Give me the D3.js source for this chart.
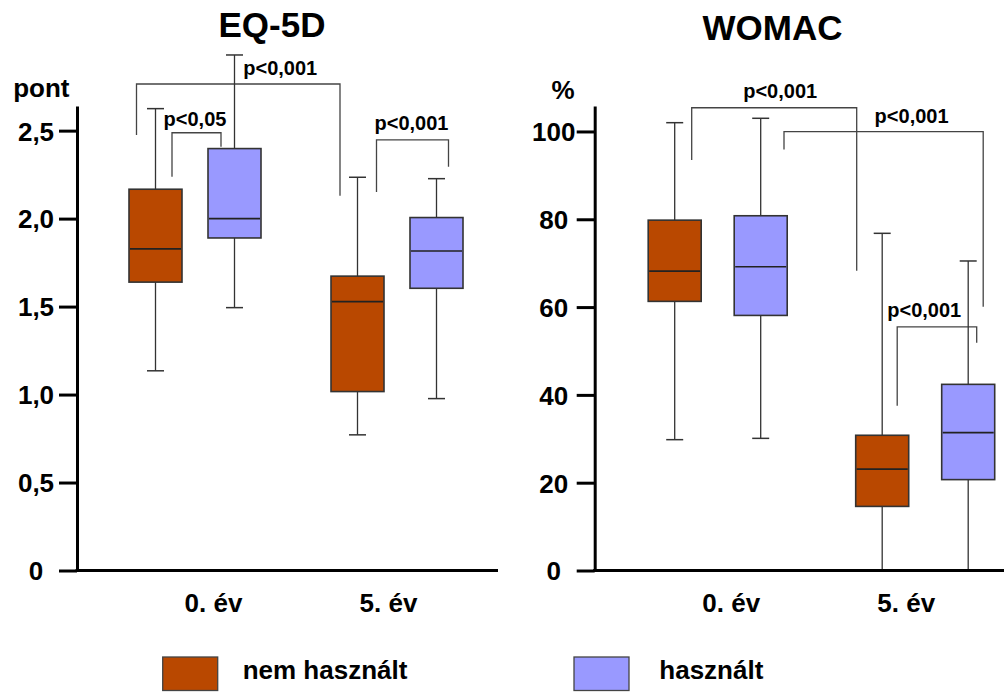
<!DOCTYPE html>
<html>
<head>
<meta charset="utf-8">
<script src="https://cdn.jsdelivr.net/npm/d3@7"></script>
<style>
  html, body { margin: 0; padding: 0; background: #fff; }
  svg { display: block; }
  text { font-family: "Liberation Sans", Arial, sans-serif; font-weight: bold; fill: #000; }
</style>
</head>
<body>
<svg id="chart" width="1004" height="693"></svg>
<script>
// Groups on the x axis and the two series (legend)
const groups = ["0. év", "5. év"];
const series = ["nem használt", "használt"];

// Box statistics per group: [min, Q1, median, Q3, max]
const eq5dNemHasznalt = [[1.135, 1.639, 1.828, 2.167, 2.625], [0.771, 1.017, 1.528, 1.673, 2.235]];
const eq5dHasznalt    = [[1.494, 1.890, 2.000, 2.398, 2.930], [0.977, 1.604, 1.816, 2.006, 2.227]];
const womacNemHasznalt = [[29.8, 61.3, 68.2, 79.8, 102.0], [0, 14.6, 23.1, 30.8, 76.8]];
const womacHasznalt    = [[30.1, 58.1, 69.2, 80.8, 103.0], [0, 20.7, 31.4, 42.4, 70.5]];

// Y axis ticks
const eq5dTicks = [0, 0.5, 1, 1.5, 2, 2.5];
const eq5dTickLabels = ["0", "0,5", "1,0", "1,5", "2,0", "2,5"];
const womacTicks = [0, 20, 40, 60, 80, 100];
const womacTickLabels = ["0", "20", "40", "60", "80", "100"];

// Significance brackets: box refs [group, series], bracket height and leg ends in data units
const eq5dBrackets = [
  { from: [0, 0], to: [1, 0], level: 2.765, endFrom: 2.475, endTo: 2.130, label: "p<0,001" },
  { from: [0, 0], to: [0, 1], level: 2.488, endFrom: 2.238, endTo: 2.409, label: "p<0,05" },
  { from: [1, 0], to: [1, 1], level: 2.447, endFrom: 2.151, endTo: 2.295, label: "p<0,001" }
];
const womacBrackets = [
  { from: [0, 0], to: [1, 0], level: 105.4, endFrom: 93.5, endTo: 68.3, label: "p<0,001" },
  { from: [0, 1], to: [1, 1], level: 99.95, endFrom: 95.9, endTo: 60.1, label: "p<0,001" },
  { from: [1, 0], to: [1, 1], level: 55.5, endFrom: 37.5, endTo: 51.9, label: "p<0,001" }
];

const colors = d3.scaleOrdinal().domain(series).range(["#B94800", "#9999FF"]);

// Panel layout (pixels)
const panels = [
  {
    title: "EQ-5D", unit: "pont", data: [eq5dNemHasznalt, eq5dHasznalt],
    ticks: eq5dTicks, tickLabels: eq5dTickLabels, yMax: 2.64, brackets: eq5dBrackets,
    axisX: 77, groupPos: [118, 320], subOffset: 39.5,
    titleX: 272, titleY: 36.7, unitX: 41.3, unitY: 96.7,
    // horizontal nudges of bracket ends and labels
    bracketDx: [[-19, -17.5, 42], [16.5, -13.5, -1.5], [19, 12, -1]],
    labelGap: [9, 7, 10]
  },
  {
    title: "WOMAC", unit: "%", data: [womacNemHasznalt, womacHasznalt],
    ticks: womacTicks, tickLabels: womacTickLabels, yMax: 105.8, brackets: womacBrackets,
    axisX: 594.7, groupPos: [123, 330.5], subOffset: 43,
    titleX: 772.5, titleY: 40, unitX: 563, unitY: 99,
    bracketDx: [[17, -25.5, 6], [23.3, 15, 28], [15, 8.5, -12.7]],
    labelGap: [10, 9, 10]
  }
];

const svg = d3.select("#chart");
const yBottom = 570.5, yTopPx = 106;
const axisWidth = 421;
const boxW = 53, capW = 17;
const stroke = "#333";

panels.forEach(p => {
  const g = svg.append("g").attr("transform", `translate(${p.axisX},0)`);

  const y = d3.scaleLinear().domain([0, p.yMax]).range([yBottom, yTopPx]);
  const xGroup = d3.scalePoint().domain(groups).range(p.groupPos);
  const xSeries = d3.scalePoint().domain(series).range([-p.subOffset, p.subOffset]);
  const xLabel = d3.scalePoint().domain(groups).range([136, 311]);
  const boxX = (gi, si) => xGroup(groups[gi]) + xSeries(series[si]);

  // Title and unit
  svg.append("text").attr("x", p.titleX).attr("y", p.titleY)
    .attr("text-anchor", "middle").style("font-size", "35px").text(p.title);
  svg.append("text").attr("x", p.unitX).attr("y", p.unitY)
    .attr("text-anchor", "middle").style("font-size", "26px").text(p.unit);

  // Brackets
  p.brackets.forEach((b, i) => {
    const [dxF, dxT, ldx] = p.bracketDx[i];
    const x1 = boxX(b.from[0], b.from[1]) + dxF;
    const x2 = boxX(b.to[0], b.to[1]) + dxT;
    g.append("path")
      .attr("d", `M${x1},${y(b.endFrom)}V${y(b.level)}H${x2}V${y(b.endTo)}`)
      .attr("fill", "none").attr("stroke", "#444").attr("stroke-width", 1.3);
    g.append("text").attr("x", (x1 + x2) / 2 + ldx).attr("y", y(b.level) - p.labelGap[i])
      .attr("text-anchor", "middle").style("font-size", "20px").text(b.label);
  });

  // Boxes
  p.data.forEach((seriesData, si) => {
    seriesData.forEach((d, gi) => {
      const [mn, q1, med, q3, mx] = d;
      const cx = boxX(gi, si);
      const bg = g.append("g");
      bg.append("line").attr("x1", cx).attr("x2", cx).attr("y1", y(q3)).attr("y2", y(mx))
        .attr("stroke", stroke).attr("stroke-width", 1.3);
      bg.append("line").attr("x1", cx).attr("x2", cx).attr("y1", y(q1)).attr("y2", y(mn))
        .attr("stroke", stroke).attr("stroke-width", 1.3);
      bg.append("line").attr("x1", cx - capW / 2).attr("x2", cx + capW / 2).attr("y1", y(mx)).attr("y2", y(mx))
        .attr("stroke", stroke).attr("stroke-width", 1.5);
      bg.append("line").attr("x1", cx - capW / 2).attr("x2", cx + capW / 2).attr("y1", y(mn)).attr("y2", y(mn))
        .attr("stroke", stroke).attr("stroke-width", 1.5);
      bg.append("rect").attr("x", cx - boxW / 2).attr("y", y(q3))
        .attr("width", boxW).attr("height", y(q1) - y(q3))
        .attr("fill", colors(series[si])).attr("stroke", stroke).attr("stroke-width", 1.6);
      bg.append("line").attr("x1", cx - boxW / 2 + 1).attr("x2", cx + boxW / 2 - 1).attr("y1", y(med)).attr("y2", y(med))
        .attr("stroke", "#222").attr("stroke-width", 1.6);
    });
  });

  // Y axis
  const yAxis = d3.axisLeft(y).tickValues(p.ticks).tickSize(18).tickSizeOuter(0)
    .tickFormat((d, i) => p.tickLabels[i]);
  const ya = g.append("g").call(yAxis);
  ya.select(".domain").attr("stroke", "#000").attr("stroke-width", 3);
  ya.selectAll(".tick line").attr("stroke", "#000").attr("stroke-width", 3);
  ya.selectAll(".tick text").attr("x", -41).attr("dy", "0.36em")
    .attr("text-anchor", "middle").style("font-size", "26px")
    .style("font-family", "'Liberation Sans', Arial, sans-serif").style("font-weight", "bold");

  // X axis
  const xAxis = d3.axisBottom(xLabel.copy().range([136, 311])).tickSize(0).tickPadding(23).tickSizeOuter(0);
  const xa = g.append("g").attr("transform", `translate(0,${yBottom})`).call(xAxis);
  xa.select(".domain").attr("d", `M-1.5,0H${axisWidth}`).attr("stroke", "#000").attr("stroke-width", 3);
  xa.selectAll(".tick text").style("font-size", "26px")
    .style("font-family", "'Liberation Sans', Arial, sans-serif").style("font-weight", "bold");
});

// Legend
const legendX = [162.7, 574];
const legendTextX = [242.7, 659.3];
series.forEach((s, i) => {
  svg.append("rect").attr("x", legendX[i]).attr("y", 657).attr("width", 55).attr("height", 33.5)
    .attr("fill", colors(s)).attr("stroke", "#444").attr("stroke-width", 1.3);
  svg.append("text").attr("x", legendTextX[i]).attr("y", 679).style("font-size", "26px").text(s);
});
</script>
</body>
</html>
